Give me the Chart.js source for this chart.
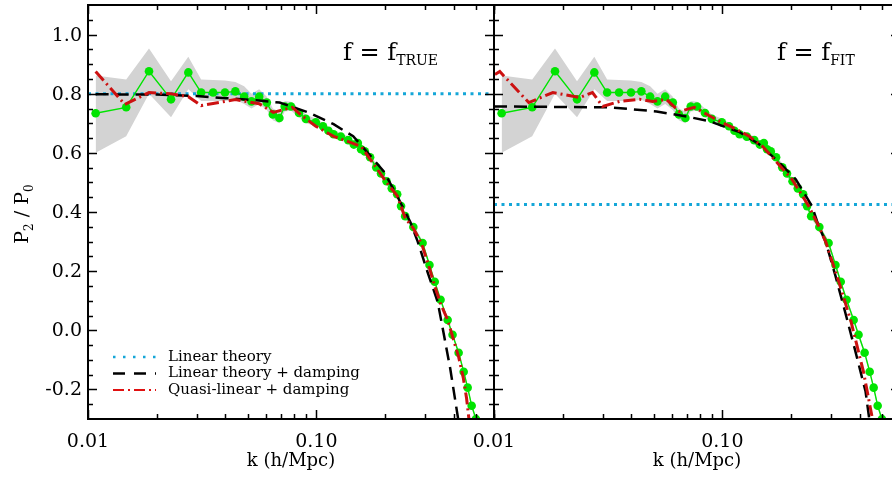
<!DOCTYPE html>
<html>
<head>
<meta charset="utf-8">
<script src="https://cdn.jsdelivr.net/npm/chart.js@4.4.1/dist/chart.umd.min.js"></script>
<style>
  html, body { margin: 0; padding: 0; background: #fff; }
  #wrap { position: relative; width: 892px; height: 478px; overflow: hidden; background: #fff; }
  #leftChart { position: absolute; left: 0; top: 0; }
  #rightChart { position: absolute; left: 450px; top: 0; }
</style>
</head>
<body>
<div id="wrap">
  <canvas id="leftChart" width="506" height="478"></canvas>
  <canvas id="rightChart" width="462" height="478"></canvas>
</div>
<script>
// simulation measurement (same in both panels)
const kSim = [0.0108, 0.0147, 0.0185, 0.0231, 0.0275, 0.0313, 0.0353, 0.0398, 0.0442, 0.0483,
  0.052, 0.0562, 0.0607, 0.0645, 0.0689, 0.0727, 0.0775, 0.084, 0.090, 0.0995,
  0.107, 0.113, 0.119, 0.128, 0.138, 0.146, 0.152, 0.157, 0.163, 0.172,
  0.183, 0.192, 0.203, 0.214, 0.226, 0.235, 0.245, 0.266, 0.292, 0.313,
  0.330, 0.350, 0.376, 0.395, 0.420, 0.442, 0.460, 0.479, 0.500];
const ratioSim = [0.734, 0.754, 0.876, 0.781, 0.872, 0.804, 0.804, 0.804, 0.808, 0.790,
  0.774, 0.790, 0.770, 0.730, 0.718, 0.757, 0.757, 0.735, 0.715, 0.703,
  0.690, 0.675, 0.663, 0.655, 0.643, 0.628, 0.633, 0.612, 0.605, 0.585,
  0.551, 0.530, 0.504, 0.480, 0.460, 0.420, 0.386, 0.349, 0.295, 0.221,
  0.164, 0.103, 0.035, -0.015, -0.076, -0.140, -0.194, -0.255, -0.300];
const simHi = [0.862, 0.848, 0.953, 0.842, 0.925, 0.848, 0.846, 0.845, 0.840, 0.825,
  0.800, 0.815, 0.790, 0.750, 0.740, 0.775, 0.773, 0.750, 0.730, 0.715,
  0.702, 0.687, 0.675, 0.667, 0.655, 0.640, 0.645, 0.624, 0.617, 0.597,
  0.562, 0.541, 0.515, 0.490, 0.470, 0.430, 0.395, 0.358, 0.303, 0.229,
  0.172, 0.110, 0.042, -0.008, -0.069, -0.133, -0.187, -0.248, -0.293];
const simLo = [0.600, 0.656, 0.800, 0.720, 0.815, 0.775, 0.775, 0.775, 0.780, 0.765,
  0.750, 0.765, 0.745, 0.710, 0.700, 0.740, 0.742, 0.720, 0.700, 0.691,
  0.678, 0.663, 0.651, 0.643, 0.631, 0.616, 0.621, 0.600, 0.593, 0.573,
  0.540, 0.519, 0.493, 0.470, 0.450, 0.410, 0.377, 0.340, 0.287, 0.213,
  0.156, 0.096, 0.028, -0.022, -0.083, -0.147, -0.201, -0.262, -0.307];

// left panel: f = f_TRUE
const kLinTrue = [0.01, 0.6];
const linTrue = [0.80, 0.80];
const kDampTrue = [0.0108, 0.020, 0.030, 0.040, 0.056, 0.069, 0.092, 0.119, 0.145, 0.173,
  0.197, 0.226, 0.258, 0.278, 0.307, 0.340, 0.360, 0.386, 0.418];
const dampTrue = [0.798, 0.797, 0.792, 0.785, 0.777, 0.770, 0.737, 0.697, 0.656, 0.589,
  0.538, 0.454, 0.366, 0.300, 0.197, 0.096, -0.005, -0.130, -0.300];
const kQuasiTrue = [0.0108, 0.0145, 0.0185, 0.0231, 0.0275, 0.0313, 0.0353, 0.0442, 0.0562, 0.0648,
  0.0785, 0.085, 0.0995, 0.119, 0.157, 0.183, 0.203, 0.226, 0.245, 0.266,
  0.290, 0.313, 0.330, 0.350, 0.376, 0.420, 0.440, 0.455, 0.466];
const quasiTrue = [0.875, 0.764, 0.804, 0.800, 0.790, 0.760, 0.767, 0.780, 0.766, 0.737,
  0.754, 0.730, 0.690, 0.656, 0.622, 0.550, 0.500, 0.455, 0.380, 0.345,
  0.290, 0.210, 0.150, 0.090, 0.035, -0.090, -0.160, -0.230, -0.300];

// right panel: f = f_FIT
const kLinFit = [0.01, 0.6];
const linFit = [0.425, 0.425];
const kDampFit = [0.01, 0.032, 0.0515, 0.0697, 0.0877, 0.119, 0.145, 0.177, 0.210, 0.247,
  0.264, 0.284, 0.313, 0.345, 0.380, 0.424, 0.440];
const dampFit = [0.757, 0.754, 0.740, 0.723, 0.707, 0.670, 0.629, 0.568, 0.510, 0.420,
  0.353, 0.298, 0.184, 0.062, -0.062, -0.207, -0.300];
const kQuasiFit = [0.0101, 0.0106, 0.0142, 0.0181, 0.0237, 0.027, 0.0299, 0.0355, 0.0434, 0.0495,
  0.057, 0.0648, 0.0753, 0.097, 0.115, 0.131, 0.150, 0.177, 0.202, 0.239,
  0.264, 0.284, 0.325, 0.366, 0.415, 0.452];
const quasiFit = [0.865, 0.875, 0.770, 0.804, 0.787, 0.804, 0.757, 0.774, 0.781, 0.774,
  0.780, 0.740, 0.754, 0.707, 0.680, 0.656, 0.622, 0.560, 0.510, 0.420,
  0.353, 0.298, 0.160, 0.030, -0.140, -0.290];

// axis ticks
const xMajor = [0.01, 0.1];
const xMinor = [0.02, 0.03, 0.04, 0.05, 0.06, 0.07, 0.08, 0.09, 0.2, 0.3, 0.4, 0.5, 0.6];
const yMajor = [-0.2, 0.0, 0.2, 0.4, 0.6, 0.8, 1.0];
const yMinor = [-0.25, -0.15, -0.1, -0.05, 0.05, 0.1, 0.15, 0.25, 0.3, 0.35, 0.45, 0.5, 0.55,
  0.65, 0.7, 0.75, 0.85, 0.9, 0.95, 1.05];

const FONT = "'DejaVu Serif', serif";
const BLUE = '#14a6d8';
const RED = '#cc1111';
const GREEN = '#00e400';
const BAND = '#d3d3d3';

const pts = (xs, ys) => xs.map((x, i) => ({ x: x, y: ys[i] }));

// frame with inward ticks on all four sides, plus panel texts
const framePlugin = {
  id: 'frame',
  afterDraw(chart, args, opts) {
    const { ctx, chartArea: a, scales: { x, y } } = chart;
    ctx.save();
    ctx.strokeStyle = '#000';
    ctx.lineWidth = 1.5;
    ctx.beginPath();
    const tick = (vals, len, isX) => {
      vals.forEach(v => {
        if (isX) {
          const px = Math.round(x.getPixelForValue(v)) + 0.5;
          ctx.moveTo(px, a.bottom); ctx.lineTo(px, a.bottom - len);
          ctx.moveTo(px, a.top); ctx.lineTo(px, a.top + len);
        } else {
          const py = Math.round(y.getPixelForValue(v)) + 0.5;
          ctx.moveTo(a.left, py); ctx.lineTo(a.left + len, py);
          ctx.moveTo(a.right, py); ctx.lineTo(a.right - len, py);
        }
      });
    };
    tick(xMajor, 9, true);
    tick(xMinor, 5, true);
    tick(yMajor, 9, false);
    tick(yMinor, 5, false);
    ctx.stroke();
    ctx.lineWidth = 2;
    ctx.strokeRect(a.left, a.top, a.right - a.left, a.bottom - a.top);

    ctx.fillStyle = '#000';

    // y tick labels
    if (opts.yLabels) {
      ctx.font = '19px ' + FONT;
      ctx.textAlign = 'right';
      ctx.textBaseline = 'middle';
      yMajor.forEach(v => {
        ctx.fillText(v.toFixed(1), a.left - 6, y.getPixelForValue(v) + 1);
      });
    }

    // panel label f = f_xxx
    ctx.textBaseline = 'alphabetic';
    ctx.textAlign = 'left';
    ctx.font = '24px ' + FONT;
    const main = 'f = f';
    ctx.fillText(main, opts.labelX, 60);
    const w = ctx.measureText(main).width;
    ctx.font = '14px ' + FONT;
    ctx.fillText(opts.sub, opts.labelX + w, 65);

    if (opts.yTitle) {
      ctx.save();
      ctx.translate(28, 214);
      ctx.rotate(-Math.PI / 2);
      const parts = [['P', 19, 0], ['2', 12, 5], [' / ', 19, 0], ['P', 19, 0], ['0', 12, 5]];
      let total = 0;
      parts.forEach(p => { ctx.font = p[1] + 'px ' + FONT; total += ctx.measureText(p[0]).width; });
      let cx = -total / 2;
      parts.forEach(p => {
        ctx.font = p[1] + 'px ' + FONT;
        ctx.fillText(p[0], cx, p[2]);
        cx += ctx.measureText(p[0]).width;
      });
      ctx.restore();
    }

    if (opts.legend) {
      const rows = [
        ['Linear theory', BLUE, [2.5, 7.5], 2.5],
        ['Linear theory + damping', '#000', [12, 9], 2.5],
        ['Quasi-linear + damping', '#e01010', [11, 4, 2, 4], 2]
      ];
      rows.forEach((r, i) => {
        const ly = 357 + i * 16.5;
        ctx.save();
        ctx.strokeStyle = r[1];
        ctx.lineWidth = r[3];
        ctx.setLineDash(r[2]);
        ctx.beginPath();
        ctx.moveTo(113, ly); ctx.lineTo(156, ly);
        ctx.stroke();
        ctx.restore();
        ctx.fillStyle = '#000';
        ctx.font = '15px ' + FONT;
        ctx.textBaseline = 'middle';
        ctx.fillText(r[0], 168, ly);
      });
    }
    ctx.restore();
  }
};

function makeChart(id, cfg) {
  const datasets = [
    { data: pts(cfg.kQuasi, cfg.quasi), borderColor: RED, borderWidth: 3, borderDash: [12, 4, 2, 4],
      pointRadius: 0, fill: false },
    { data: pts(cfg.kDamp, cfg.damp), borderColor: '#000', borderWidth: 2.5, borderDash: [13, 7],
      pointRadius: 0, fill: false },
    { data: pts(kSim, ratioSim), borderColor: GREEN, borderWidth: 1.4, pointRadius: 4.3,
      pointBackgroundColor: GREEN, pointBorderWidth: 0, fill: false },
    { data: pts(cfg.kLin, cfg.lin), borderColor: BLUE, borderWidth: 3, borderDash: [3, 4.5],
      pointRadius: 0, fill: false },
    { data: pts(kSim, simHi), borderWidth: 0, borderColor: BAND, pointRadius: 0,
      backgroundColor: BAND, fill: '+1' },
    { data: pts(kSim, simLo), borderWidth: 0, borderColor: BAND, pointRadius: 0, fill: false }
  ];
  datasets.forEach(d => { d.clip = 0; d.tension = 0; });

  const xTicks = xMajor.concat(xMinor).sort((p, q) => p - q);

  return new Chart(document.getElementById(id), {
    type: 'line',
    data: { datasets: datasets },
    plugins: [framePlugin],
    options: {
      responsive: false,
      animation: false,
      devicePixelRatio: 1,
      layout: { padding: { top: 5, right: 12, left: 0, bottom: 0 } },
      plugins: {
        legend: { display: false },
        tooltip: { enabled: false },
        frame: cfg.frame
      },
      scales: {
        x: {
          type: 'logarithmic',
          min: 0.01,
          max: 0.6,
          grid: { display: false, drawTicks: false },
          border: { display: false },
          afterBuildTicks: s => { s.ticks = xTicks.map(v => ({ value: v })); },
          afterFit: s => { s.height = 59; },
          ticks: {
            autoSkip: false, maxRotation: 0, padding: 12, color: '#000',
            font: { family: FONT, size: 19 },
            callback: v => (v === 0.01 ? '0.01' : (Math.abs(v - 0.1) < 1e-9 ? '0.10' : ''))
          },
          title: { display: true, text: 'k (h/Mpc)', color: '#000',
            font: { family: FONT, size: 18 }, padding: { top: 0, bottom: 6 } }
        },
        y: {
          min: -0.3,
          max: 1.1,
          grid: { display: false, drawTicks: false },
          border: { display: false },
          afterBuildTicks: s => { s.ticks = yMajor.map(v => ({ value: v })); },
          afterFit: s => { s.width = cfg.yWidth; },
          ticks: { display: false }
        }
      }
    }
  });
}

makeChart('leftChart', {
  kLin: kLinTrue, lin: linTrue, kDamp: kDampTrue, damp: dampTrue,
  kQuasi: kQuasiTrue, quasi: quasiTrue, yWidth: 88,
  frame: { labelX: 343, sub: 'TRUE', yTitle: true, legend: true, yLabels: true }
});

makeChart('rightChart', {
  kLin: kLinFit, lin: linFit, kDamp: kDampFit, damp: dampFit,
  kQuasi: kQuasiFit, quasi: quasiFit, yWidth: 44,
  frame: { labelX: 327, sub: 'FIT', yTitle: false, legend: false, yLabels: false }
});
</script>
</body>
</html>
